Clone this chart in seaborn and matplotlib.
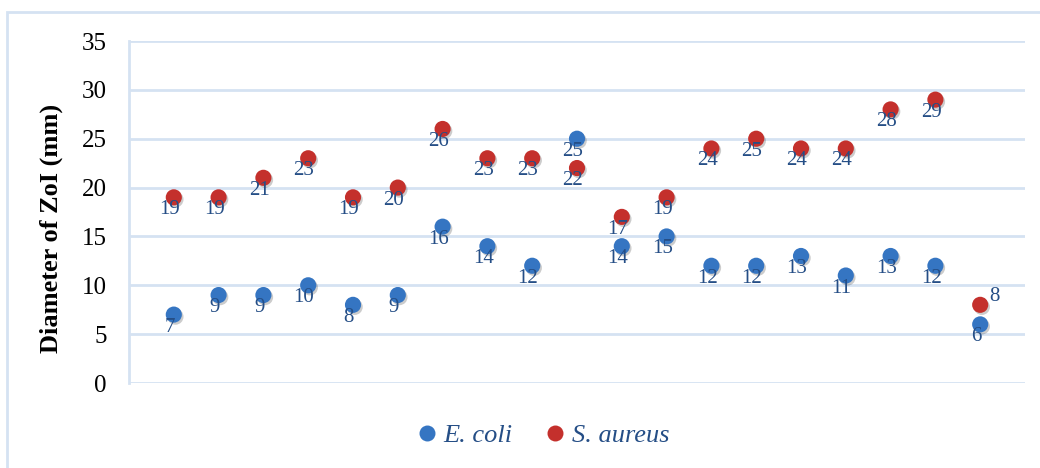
import numpy as np
import pandas as pd
import seaborn as sns
import matplotlib
matplotlib.use("Agg")
import matplotlib.pyplot as plt
import matplotlib.patheffects as pe
from matplotlib.lines import Line2D
from matplotlib.patches import Rectangle

# ---- data ----
samples = list(range(1, 20))
ecoli = [7, 9, 9, 10, 8, 9, 16, 14, 12, 25, 14, 15, 12, 12, 13, 11, 13, 12, 6]
saureus = [19, 19, 21, 23, 19, 20, 26, 23, 23, 22, 17, 19, 24, 25, 24, 24, 28, 29, 8]
series_names = ["E. coli", "S. aureus"]
y_ticks = [0, 5, 10, 15, 20, 25, 30, 35]
y_label = "Diameter of ZoI (mm)"

df = pd.DataFrame({
    "sample": samples * 2,
    "zoi": ecoli + saureus,
    "organism": [series_names[0]] * len(samples) + [series_names[1]] * len(samples),
})

blue = "#3575C2"
red = "#C4302C"
label_color = "#254E86"
grid_color = "#D5E2F2"

sns.set_theme(style="white")
plt.rcParams["font.family"] = ["Liberation Serif", "DejaVu Serif"]

W, H = 1040, 468
fig = plt.figure(figsize=(W / 100, H / 100), dpi=100)
ax = fig.add_axes([129 / W, 1 - 383 / H, (1025 - 129) / W, (383 - 41) / H])

shadow = [pe.SimplePatchShadow(offset=(1.2, -1.5), shadow_rgbFace="black", alpha=0.2), pe.Normal()]

sns.scatterplot(data=df, x="sample", y="zoi", hue="organism",
                palette={series_names[0]: blue, series_names[1]: red},
                s=135, edgecolor="none", linewidth=0, ax=ax, legend=False, zorder=3)
for coll in ax.collections:
    coll.set_path_effects(shadow)

ax.set_xlim(0, 20)
ax.set_ylim(0, 35)
ax.set_yticks(y_ticks)
ax.set_xticks([])
ax.yaxis.grid(True, color=grid_color, linewidth=2)
ax.set_axisbelow(True)
for side in ["top", "right", "bottom"]:
    ax.spines[side].set_visible(False)
ax.spines["left"].set_color(grid_color)
ax.spines["left"].set_linewidth(2)
ax.tick_params(axis="y", length=0, pad=16, labelsize=18, labelcolor="black")
ax.set_xlabel("")
ax.set_ylabel(y_label, fontsize=19, fontweight="bold", color="black")
ax.yaxis.set_label_coords(63 / W, 1 - 228 / H, transform=fig.transFigure)

# data labels
for xs, ys, kind in [(samples, ecoli, 0), (samples, saureus, 1)]:
    for i, (xv, yv) in enumerate(zip(xs, ys)):
        if kind == 1 and i == len(xs) - 1:
            off = (10, 6)
        else:
            off = (-3, -9)
        ax.annotate(str(yv), (xv, yv), xytext=off, textcoords="offset points",
                    ha="center", va="center", fontsize=15, color=label_color, zorder=4)

# legend
handles = [Line2D([0], [0], marker="o", linestyle="", markersize=11.5, markerfacecolor=c,
                  markeredgecolor="none") for c in (blue, red)]
leg = fig.legend(handles, series_names, loc="center", bbox_to_anchor=(535 / W, 1 - 435 / H),
                 ncol=2, frameon=False, handletextpad=-0.35, columnspacing=0.6,
                 prop={"style": "italic", "size": 19, "family": "Liberation Serif"})
for t in leg.get_texts():
    t.set_color(label_color)

# chart frame
fig.patches.append(Rectangle((7 / W, -0.1), 1.2, 1.1 - 12 / H, transform=fig.transFigure,
                             fill=False, edgecolor=grid_color, linewidth=2))

fig.savefig("out.png", dpi=100, facecolor="white")
